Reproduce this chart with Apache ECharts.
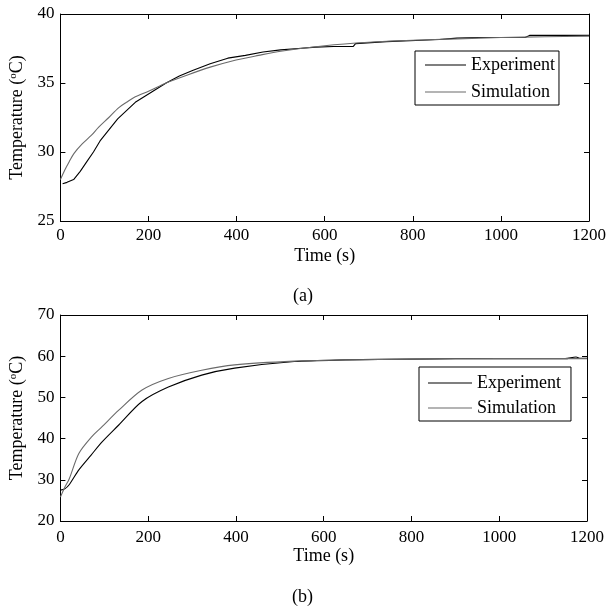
<!DOCTYPE html>
<html>
<head>
<meta charset="utf-8">
<script src="https://cdn.jsdelivr.net/npm/echarts@6/dist/echarts.min.js"></script>
<style>html,body{margin:0;padding:0;background:#fff}#c{width:609px;height:611px}</style>
</head>
<body>
<div id="c"></div>
<script>
// ---- data: panel (a) ----
var expA_t = [5, 15, 30, 45, 60, 75, 90, 110, 130, 150, 170, 190, 210, 240, 270, 300, 340, 380, 420, 460, 500, 540, 580, 620, 665, 670, 740, 780, 820, 860, 900, 950, 1000, 1055, 1065, 1100, 1150, 1200];
var expA_v = [27.7, 27.8, 28.0, 28.6, 29.3, 30.0, 30.8, 31.6, 32.4, 33.0, 33.6, 34.0, 34.4, 35.0, 35.5, 35.9, 36.4, 36.8, 37.0, 37.25, 37.4, 37.5, 37.6, 37.65, 37.65, 37.85, 38.0, 38.05, 38.1, 38.15, 38.25, 38.3, 38.3, 38.3, 38.45, 38.45, 38.45, 38.45];
var simA_t = [0, 10, 20, 31, 50, 70, 87, 110, 132, 150, 170, 200, 240, 290, 340, 390, 450, 500, 600, 700, 800, 900, 1000, 1100, 1200];
var simA_v = [28.0, 28.7, 29.3, 29.9, 30.6, 31.2, 31.8, 32.5, 33.2, 33.6, 34.0, 34.4, 35.0, 35.6, 36.15, 36.6, 37.0, 37.3, 37.7, 37.95, 38.1, 38.2, 38.3, 38.35, 38.4];
// ---- data: panel (b) ----
var expB_t = [0, 10, 20, 42, 70, 95, 133, 186, 246, 322, 397, 533, 650, 800, 1000, 1150, 1175, 1185, 1200];
var expB_v = [27.5, 27.8, 28.8, 32.4, 36.0, 39.2, 43.3, 49.0, 52.5, 55.4, 57.1, 58.7, 59.1, 59.3, 59.4, 59.4, 59.8, 59.5, 59.5];
var simB_t = [0, 10, 20, 42, 70, 95, 133, 186, 246, 322, 397, 533, 650, 800, 1000, 1200];
var simB_v = [25.8, 28.2, 30.2, 36.4, 40.3, 42.9, 46.9, 51.8, 54.6, 56.6, 57.9, 58.8, 59.1, 59.3, 59.4, 59.4];
var xTicks = [0, 200, 400, 600, 800, 1000, 1200];
var yTicksA = [25, 30, 35, 40];
var yTicksB = [20, 30, 40, 50, 60, 70];
var seriesNames = ['Experiment', 'Simulation'];

function pairs(t, v) { return t.map(function (x, i) { return [x, v[i]]; }); }

var FONT = 'Liberation Serif';

function xAx(grid, pos, showLbl, name, lblMargin, nameGap) {
  return {
    type: 'value', gridIndex: grid, position: pos,
    min: xTicks[0], max: xTicks[xTicks.length - 1], interval: 200,
    axisLine: { show: true, onZero: false, lineStyle: { color: '#000', width: 1 } },
    axisTick: { show: true, inside: true, length: 5, lineStyle: { color: '#000' } },
    axisLabel: { show: showLbl, fontFamily: FONT, fontSize: 17, color: '#000', margin: lblMargin || 6,
                 formatter: function (v) { return String(v); } },
    splitLine: { show: false },
    name: name || '', nameLocation: 'middle', nameGap: nameGap || 25,
    nameTextStyle: { fontFamily: FONT, fontSize: 18, color: '#000' }
  };
}
function yAx(grid, pos, showLbl, ticks, step, withName) {
  return {
    type: 'value', gridIndex: grid, position: pos,
    min: ticks[0], max: ticks[ticks.length - 1], interval: step,
    axisLine: { show: true, onZero: false, lineStyle: { color: '#000', width: 1 } },
    axisTick: { show: true, inside: true, length: 5, lineStyle: { color: '#000' } },
    axisLabel: { show: showLbl, fontFamily: FONT, fontSize: 17, color: '#000', margin: 6 },
    splitLine: { show: false },
    name: withName ? '{n|Temperature (}{s|o}{n|C)}' : '',
    nameLocation: 'middle', nameGap: 31, nameRotate: 90,
    nameTextStyle: {
      rich: {
        n: { fontFamily: FONT, fontSize: 18, color: '#000' },
        s: { fontFamily: FONT, fontSize: 11, color: '#000', verticalAlign: 'top', padding: [0, 0, 8, 0] }
      }
    }
  };
}

var lineExp = { color: '#000', width: 1.1 };
var lineSim = { color: '#6a6a6a', width: 1.1 };
var LEG_ICON = 'path://M0,0H40V1H0Z';

var chart = echarts.init(document.getElementById('c'), null, { renderer: 'canvas' });
chart.setOption({
  animation: false,
  backgroundColor: '#fff',
  grid: [
    { left: 58, top: 14, right: 17, height: 207, containLabel: false },
    { left: 58, top: 315, right: 22, height: 206, containLabel: false }
  ],
  xAxis: [
    xAx(0, 'bottom', true, 'Time (s)', 6, 26), xAx(0, 'top', false),
    xAx(1, 'bottom', true, 'Time (s)', 8, 21), xAx(1, 'top', false)
  ],
  yAxis: [
    yAx(0, 'left', true, yTicksA, 5, true), yAx(0, 'right', false, yTicksA, 5, false),
    yAx(1, 'left', true, yTicksB, 10, true), yAx(1, 'right', false, yTicksB, 10, false)
  ],
  legend: [
    {
      left: 415, top: 51, orient: 'vertical', data: seriesNames, icon: LEG_ICON,
      backgroundColor: '#fff', borderColor: '#000', borderWidth: 1, borderRadius: 0,
      padding: [5, 4, 4, 10], itemWidth: 41, itemHeight: 14, itemGap: 9,
      textStyle: { fontFamily: FONT, fontSize: 18, color: '#000' }
    },
    {
      left: 419, top: 367, orient: 'vertical', data: seriesNames, icon: LEG_ICON,
      backgroundColor: '#fff', borderColor: '#000', borderWidth: 1, borderRadius: 0,
      padding: [7, 10, 4, 9], itemWidth: 44, itemHeight: 14, itemGap: 7,
      textStyle: { fontFamily: FONT, fontSize: 18, color: '#000' }
    }
  ],
  graphic: [
    { type: 'text', left: 293, top: 287, style: { text: '(a)', font: '18px "Liberation Serif"', fill: '#000' } },
    { type: 'text', left: 292, top: 588, style: { text: '(b)', font: '18px "Liberation Serif"', fill: '#000' } }
  ],
  series: [
    { name: seriesNames[0], type: 'line', xAxisIndex: 0, yAxisIndex: 0, symbol: 'none', data: pairs(expA_t, expA_v), lineStyle: lineExp, itemStyle: { color: '#000' } },
    { name: seriesNames[1], type: 'line', xAxisIndex: 0, yAxisIndex: 0, symbol: 'none', data: pairs(simA_t, simA_v), smooth: 0.3, lineStyle: lineSim, itemStyle: { color: '#6a6a6a' } },
    { name: seriesNames[0], type: 'line', xAxisIndex: 2, yAxisIndex: 2, symbol: 'none', data: pairs(expB_t, expB_v), smooth: 0.3, lineStyle: lineExp, itemStyle: { color: '#000' } },
    { name: seriesNames[1], type: 'line', xAxisIndex: 2, yAxisIndex: 2, symbol: 'none', data: pairs(simB_t, simB_v), smooth: 0.3, lineStyle: lineSim, itemStyle: { color: '#6a6a6a' } }
  ]
});
</script>
</body>
</html>
